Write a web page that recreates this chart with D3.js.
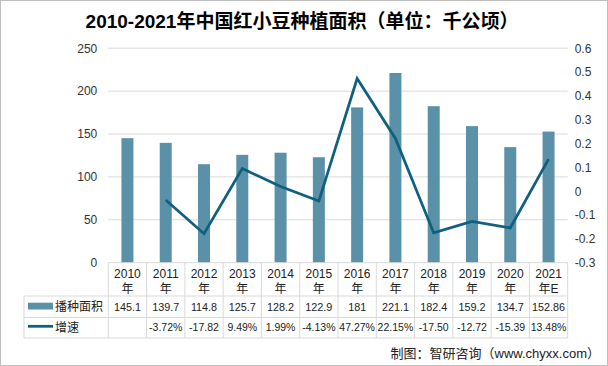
<!DOCTYPE html>
<html><head><meta charset="utf-8">
<script src="https://cdn.jsdelivr.net/npm/d3@7"></script>
<style>
body{margin:0;background:#fff;}
text{font-family:"Liberation Sans","Noto Sans CJK SC",sans-serif;}
</style></head>
<body><svg id="c" width="608" height="366"></svg>
<script>
const years = ["2010","2011","2012","2013","2014","2015","2016","2017","2018","2019","2020","2021"];
const yearSuffix = ["年","年","年","年","年","年","年","年","年","年","年","年E"];
const area = [145.1,139.7,114.8,125.7,128.2,122.9,181,221.1,182.4,159.2,134.7,152.86];
const areaLabels = ["145.1","139.7","114.8","125.7","128.2","122.9","181","221.1","182.4","159.2","134.7","152.86"];
const growth = [null,-3.72,-17.82,9.49,1.99,-4.13,47.27,22.15,-17.50,-12.72,-15.39,13.48];
const growthLabels = ["","-3.72%","-17.82","9.49%","1.99%","-4.13%","47.27%","22.15%","-17.50","-12.72","-15.39","13.48%"];
const leftTicks = [0,50,100,150,200,250];
const rightTicks = [-0.3,-0.2,-0.1,0,0.1,0.2,0.3,0.4,0.5,0.6];
const seriesNames = ["播种面积","增速"];
const title = "2010-2021年中国红小豆种植面积（单位：千公顷）";
const source = "制图：智研咨询（www.chyxx.com）";

const barColor = "#5b91a8", lineColor = "#0f5f7f", gridColor = "#d9d9d9";
const svg = d3.select("#c");
const L = 108.3, R = 567.7, T = 48.2, B = 262.7;

svg.append("rect").attr("x",0.5).attr("y",0.5).attr("width",607).attr("height",365)
  .attr("fill","#fff").attr("stroke","#bfbfbf");

svg.append("text").attr("x",302).attr("y",27.5).attr("text-anchor","middle")
  .attr("font-size",19).attr("font-weight","bold").attr("fill","#000").text(title);

const x = d3.scaleBand().domain(years).range([L,R]);
const y = d3.scaleLinear().domain([0,250]).range([B,T]);
const y2 = d3.scaleLinear().domain([-0.3,0.6]).range([B,T]);

svg.append("g").selectAll("line").data(leftTicks.filter(d=>d>0)).join("line")
  .attr("x1",L).attr("x2",R).attr("y1",d=>y(d)).attr("y2",d=>y(d))
  .attr("stroke",gridColor).attr("stroke-width",1);

const la = svg.append("g").attr("transform",`translate(${L},0)`)
  .call(d3.axisLeft(y).tickValues(leftTicks).tickSize(0).tickPadding(11));
la.select(".domain").remove();
la.selectAll("text").attr("font-size",12).attr("fill","#333").attr("font-family","Liberation Sans");

const ra = svg.append("g").attr("transform",`translate(${R},0)`)
  .call(d3.axisRight(y2).tickValues(rightTicks).tickSize(0).tickPadding(7));
ra.select(".domain").remove();
ra.selectAll("text").attr("font-size",12).attr("fill","#333").attr("font-family","Liberation Sans")
  .text(d=>{const v=Math.round(d*10)/10; return v===0?"0":(v<0?"-":"")+Math.abs(v).toString();});

const bw = 12;
svg.append("g").selectAll("rect").data(area).join("rect")
  .attr("x",(d,i)=>x(years[i])+x.bandwidth()/2-bw/2)
  .attr("width",bw)
  .attr("y",d=>y(d)).attr("height",d=>B-y(d))
  .attr("fill",barColor);

const line = d3.line().defined(d=>d.v!==null)
  .x(d=>x(d.k)+x.bandwidth()/2).y(d=>y2(d.v/100));
svg.append("path").datum(growth.map((v,i)=>({k:years[i],v})))
  .attr("d",line).attr("fill","none").attr("stroke",lineColor).attr("stroke-width",2.75)
  .attr("stroke-linejoin","miter");

const r0 = B, r1 = 296, r2 = 317.5, r3 = 338, tl = 24;
const tg = svg.append("g").attr("stroke",gridColor).attr("stroke-width",1);
tg.append("line").attr("x1",L).attr("x2",R).attr("y1",r0).attr("y2",r0);
[r1,r2,r3].forEach(v=>tg.append("line").attr("x1",tl).attr("x2",R).attr("y1",v).attr("y2",v));
tg.append("line").attr("x1",tl).attr("x2",tl).attr("y1",r1).attr("y2",r3);
years.forEach(k=>tg.append("line").attr("x1",x(k)).attr("x2",x(k)).attr("y1",r0).attr("y2",r3));
tg.append("line").attr("x1",R).attr("x2",R).attr("y1",r0).attr("y2",r3);

const cell = svg.append("g").attr("fill","#222").attr("text-anchor","middle");
years.forEach((k,i)=>{
  const cx = x(k)+x.bandwidth()/2;
  cell.append("text").attr("x",cx).attr("y",277.5).attr("font-size",12).text(k);
  cell.append("text").attr("x",cx).attr("y",293).attr("font-size",12).text(yearSuffix[i]);
  cell.append("text").attr("x",cx).attr("y",310.5).attr("font-size",10.8).text(areaLabels[i]);
  cell.append("text").attr("x",cx).attr("y",331).attr("font-size",10.5).text(growthLabels[i]);
});

svg.append("rect").attr("x",28).attr("y",302.7).attr("width",25).attr("height",6.8).attr("fill",barColor);
svg.append("line").attr("x1",28).attr("x2",53).attr("y1",326.3).attr("y2",326.3)
  .attr("stroke",lineColor).attr("stroke-width",2.75);
svg.append("text").attr("x",55).attr("y",311).attr("font-size",12).attr("fill","#222").text(seriesNames[0]);
svg.append("text").attr("x",55).attr("y",332).attr("font-size",12).attr("fill","#222").text(seriesNames[1]);

svg.append("text").attr("x",600).attr("y",358).attr("text-anchor","end")
  .attr("font-size",13).attr("fill","#222").text(source);
</script></body></html>
